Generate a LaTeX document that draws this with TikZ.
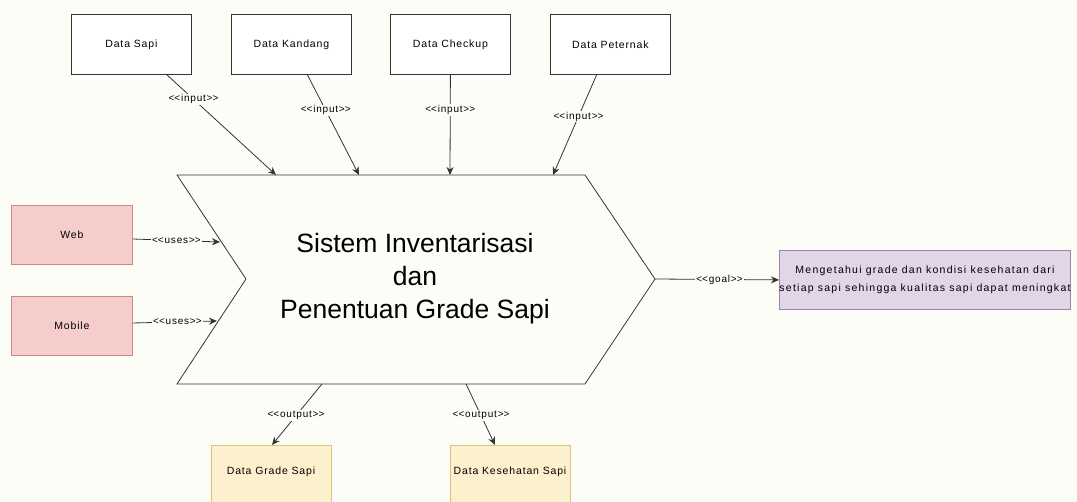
\documentclass[tikz,border=0pt]{standalone}
\usepackage{fontspec}
\setmainfont{Liberation Sans}
\usetikzlibrary{arrows.meta}
\definecolor{bgc}{HTML}{FDFDF8}
\definecolor{redfill}{HTML}{F5CDCB}
\definecolor{redline}{HTML}{C98A88}
\definecolor{purfill}{HTML}{E2D5E7}
\definecolor{purline}{HTML}{9C86A8}
\definecolor{yelfill}{HTML}{FDF0CC}
\definecolor{yelline}{HTML}{D9C27A}
\definecolor{linec}{HTML}{333333}
\newcommand\stereo[1]{<\kern0pt<#1>\kern0pt>}
\tikzset{
  box/.style={draw=linec, line width=0.8pt, minimum width=120pt, minimum height=60pt, inner sep=0pt, font=\fontsize{10.5}{12}\selectfont\addfontfeature{LetterSpace=8}, anchor=north west},
  redbox/.style={box, fill=redfill, draw=redline, minimum width=121pt, minimum height=59pt},
  yelbox/.style={box, fill=yelfill, draw=yelline, minimum height=70pt},
  purbox/.style={box, fill=purfill, draw=purline, minimum width=289pt, minimum height=59pt, align=center, font=\fontsize{10.5}{18}\selectfont\addfontfeature{LetterSpace=12}},
  smalltxt/.style={font=\fontsize{10.5}{12}\selectfont\addfontfeature{LetterSpace=8}},
  conn/.style={draw=linec, line width=0.8pt, -{Stealth[length=8pt,width=7pt]}},
  lbl/.style={fill=bgc, inner sep=1pt, font=\fontsize{10}{11}\selectfont\addfontfeature{LetterSpace=8}},
}
\begin{document}
\begin{tikzpicture}[x=1pt,y=-1pt]
\useasboundingbox (0,0) rectangle (1077,502);
\clip (0,0) rectangle (1077,502);
\fill[bgc] (0,0) rectangle (1077,502);
% chevron
\draw[linec, line width=0.8pt, fill=bgc] (177,175) -- (585,175) -- (655,279) -- (585,384) -- (177,384) -- (246,279) -- cycle;
\node[align=center, font=\fontsize{26.5}{33}\selectfont] (sys) at (415,279) {Sistem Inventarisasi\\dan\\Penentuan Grade Sapi};
\coordinate (inA) at (276,175);
\coordinate (inB) at (359,175);
\coordinate (inC) at (450,175);
\coordinate (inD) at (553,175);
\coordinate (usW) at (220,242);
\coordinate (usM) at (217,321);
\coordinate (tip) at (655,279);
\coordinate (outG) at (322,384);
\coordinate (outK) at (466,384);
% top boxes
\node[box, fill=white] (sapi) at (71,14) {Data Sapi};
\node[box, fill=white] (kandang) at (231,14) {Data Kandang};
\node[box, fill=white] (checkup) at (390,14) {Data Checkup};
\node[box, fill=white] (peternak) at (550,14) {Data Peternak};
% left boxes
\node[redbox] (web) at (11,205) {Web};
\node[redbox] (mobile) at (11,296) {Mobile};
% goal
\node[purbox] (goal) at (779,250) {Mengetahui grade dan kondisi kesehatan dari\\setiap sapi sehingga kualitas sapi dapat meningkat};
% bottom boxes
\node[yelbox] (grade) at (211,445) {};
\node[smalltxt] (gradet) at (271,472) {Data Grade Sapi};
\node[yelbox] (kes) at (450,445) {};
\node[smalltxt] (kest) at (510,472) {Data Kesehatan Sapi};
% connectors
\draw[conn] (166,74) -- (inA) node[lbl, pos=0.25] {\stereo{input}};
\draw[conn] (307,74) -- (inB) node[lbl, pos=0.36] {\stereo{input}};
\draw[conn] (checkup.south) -- (inC) node[lbl, pos=0.35] {\stereo{input}};
\draw[conn] (597,74) -- (inD) node[lbl, pos=0.42] {\stereo{input}};
\draw[conn] (web.east |- 0,239) -- (usW) node[lbl, pos=0.5] {\stereo{uses}};
\draw[conn] (mobile.east |- 0,323) -- (usM) node[lbl, pos=0.53] {\stereo{uses}};
\draw[conn] (tip) -- (goal.west) node[lbl, pos=0.52] {\stereo{goal}};
\draw[conn] (outG) -- (272,445) node[lbl, pos=0.52] {\stereo{output}};
\draw[conn] (outK) -- (495,445) node[lbl, pos=0.52] {\stereo{output}};
\end{tikzpicture}
\end{document}
